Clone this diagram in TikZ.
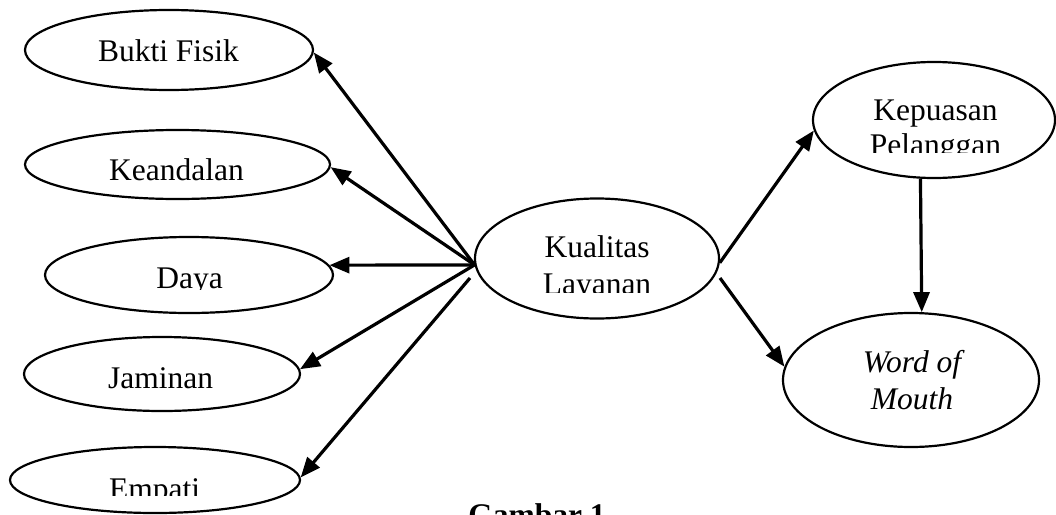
\documentclass[tikz,border=0pt]{standalone}
\usepackage{fontspec}
\setmainfont{Liberation Serif}
\usetikzlibrary{shapes.geometric,arrows.meta}
\begin{document}
\begin{tikzpicture}[x=1pt,y=-1pt,
  oval/.style={ellipse, draw, line width=2.2pt, inner sep=0pt},
  lbl/.style={anchor=base, inner sep=0pt, font=\fontsize{31.5}{37}\selectfont},
  link/.style={line width=3.2pt, -{Triangle[length=20pt,width=16pt]}}]
\useasboundingbox (0,0) rectangle (1056,514);
\clip (0,0) rectangle (1056,514);
% ellipses
\node[oval, minimum width=288pt, minimum height=80pt] (bf) at (169,50) {};
\node[oval, minimum width=305pt, minimum height=69pt] (kd) at (177.5,164.5) {};
\node[oval, minimum width=288pt, minimum height=76pt] (dy) at (189,275) {};
\node[oval, minimum width=276pt, minimum height=74pt] (jm) at (162,374) {};
\node[oval, minimum width=290pt, minimum height=66pt] (em) at (155,480) {};
\node[oval, minimum width=244pt, minimum height=120pt] (kl) at (597,258.5) {};
\node[oval, minimum width=242pt, minimum height=116pt] (kp) at (934,120) {};
\node[oval, minimum width=256pt, minimum height=134pt] (wm) at (911,380) {};
% texts
\node[lbl] (t1) at (168.5,61) {Bukti Fisik};
\node[lbl] (t2) at (176.5,180) {Keandalan};
\begin{scope}
  \clip (0,0) rectangle (1056,289.5);
  \node[lbl] (t3) at (189.5,288) {Daya};
\end{scope}
\node[lbl] (t4) at (160.5,388) {Jaminan};
\begin{scope}
  \clip (0,0) rectangle (1056,495);
  \node[lbl] (t5) at (154.5,499) {Empati};
\end{scope}
\node[lbl] (t6) at (597,257) {Kualitas};
\begin{scope}
  \clip (0,0) rectangle (1056,292);
  \node[lbl] (t7) at (597,294) {Layanan};
\end{scope}
\node[lbl] (t8) at (935.5,120) {Kepuasan};
\begin{scope}
  \clip (0,0) rectangle (1056,152);
  \node[lbl] (t9) at (935.5,155) {Pelanggan};
\end{scope}
\node[lbl, font=\fontsize{31.5}{37}\selectfont\itshape] (t10) at (912,372) {Word of};
\node[lbl, font=\fontsize{31.5}{37}\selectfont\itshape] (t11) at (912,409) {Mouth};
\node[lbl, font=\fontsize{31.5}{37}\selectfont\bfseries] (t12) at (537,525) {Gambar 1};
% connectors
\draw[link] (kl.183) -- (bf.-1);
\draw[link] (kl.183) -- (kd.-1.3);
\draw[link] (kl.183) -- (dy.4.5);
\draw[link] (kl.183) -- (jm.2.5);
\coordinate (e0) at (470,278);
\draw[link] (e0) -- (em.1.2);
\draw[link] (kl.-2) -- (kp.185);
\coordinate (w0) at (720,278);
\draw[link] (w0) -- (wm.174.7);
\draw[link] (kp.257) -- (wm.81.5);
\end{tikzpicture}
\end{document}
